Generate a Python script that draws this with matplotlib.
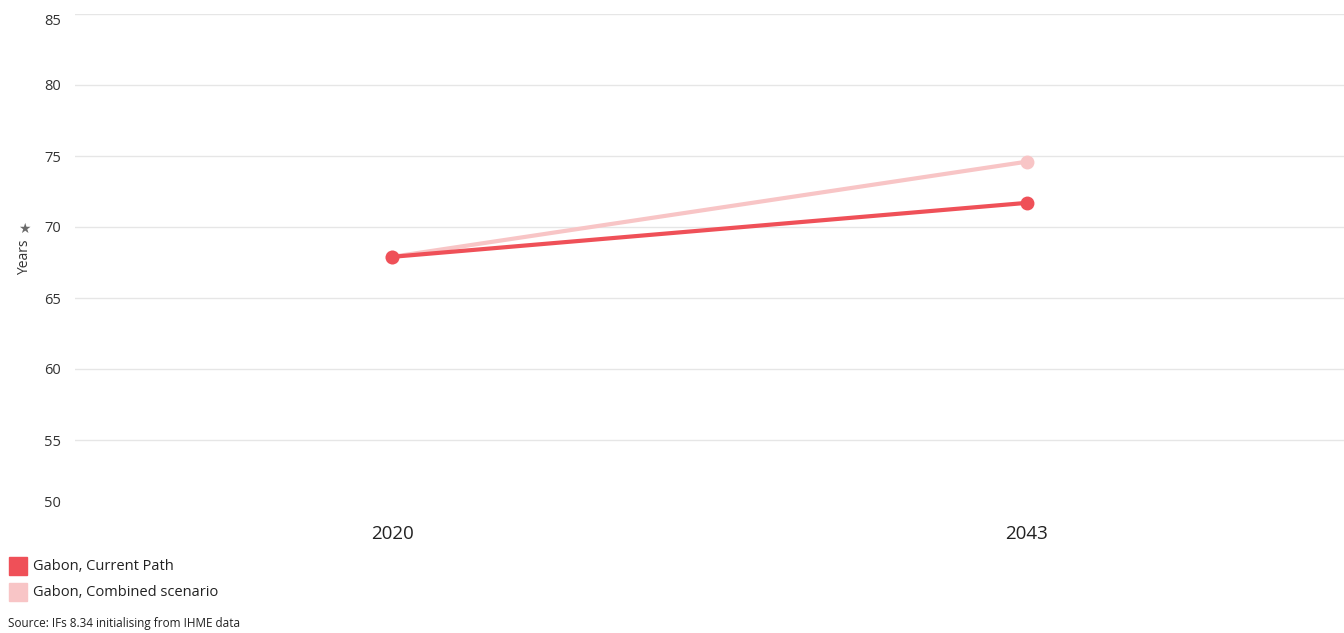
import numpy as np
import matplotlib.pyplot as plt
from matplotlib.patches import Rectangle

plt.rcParams['font.family'] = ['Open Sans', 'DejaVu Sans']

years = ['2020', '2043']
current_path = [67.9, 71.7]
combined = [67.9, 74.6]
yticks = [50, 55, 60, 65, 70, 75, 80, 85]

c_current = '#ef5058'
c_combined = '#f8c5c6'

fig = plt.figure(figsize=(13.44, 6.33), dpi=100)
ax = fig.add_axes([75 / 1344, 1 - 511 / 633, 1 - 75 / 1344, (511 - 14) / 633])

x = np.arange(len(years))
ax.plot(x, combined, color=c_combined, lw=3, marker='o', ms=9, zorder=3)
ax.plot(x, current_path, color=c_current, lw=3, marker='o', ms=9, zorder=4)

ax.set_xlim(-0.5, 1.5)
ax.set_ylim(50, 85)
ax.set_yticks(yticks)
ax.set_yticklabels([str(t) for t in yticks])
ax.set_xticks(x)
ax.set_xticklabels(years)
# gridlines drawn by hand so the bottom (50) one is left out
for t in yticks[1:]:
    ax.axhline(t, color='#e6e6e6', lw=1, zorder=0)
for s in ax.spines.values():
    s.set_visible(False)
ax.tick_params(axis='y', length=0, labelsize=10.5, labelcolor='#333333', pad=10)
ax.tick_params(axis='x', length=0, labelsize=13.5, labelcolor='#222222', pad=10)
# shift end labels inward like the original
labs = ax.get_yticklabels()
labs[0].set_va('bottom')
labs[-1].set_va('top')

fig.text(25 / 1344, 1 - 257 / 633, 'Years', rotation=90, ha='center', va='center',
         fontsize=10, color='#333333')
fig.text(24 / 1344, 1 - 229 / 633, '\u2605', ha='center', va='center',
         fontsize=10, color='#6b6b6b', family=['DejaVu Sans'])

# legend
for i, (lab, col) in enumerate([('Gabon, Current Path', c_current),
                                 ('Gabon, Combined scenario', c_combined)]):
    yc = 566 + i * 26
    fig.patches.append(Rectangle((9 / 1344, 1 - (yc + 9) / 633), 18 / 1344, 18 / 633,
                                 transform=fig.transFigure, color=col))
    fig.text(33 / 1344, 1 - yc / 633, lab, ha='left', va='center', fontsize=10.5,
             color='#222222')

fig.text(8 / 1344, 1 - 624 / 633, 'Source: IFs 8.34 initialising from IHME data',
         ha='left', va='center', fontsize=8.5, color='#222222')

fig.savefig('out.png', dpi=100)
